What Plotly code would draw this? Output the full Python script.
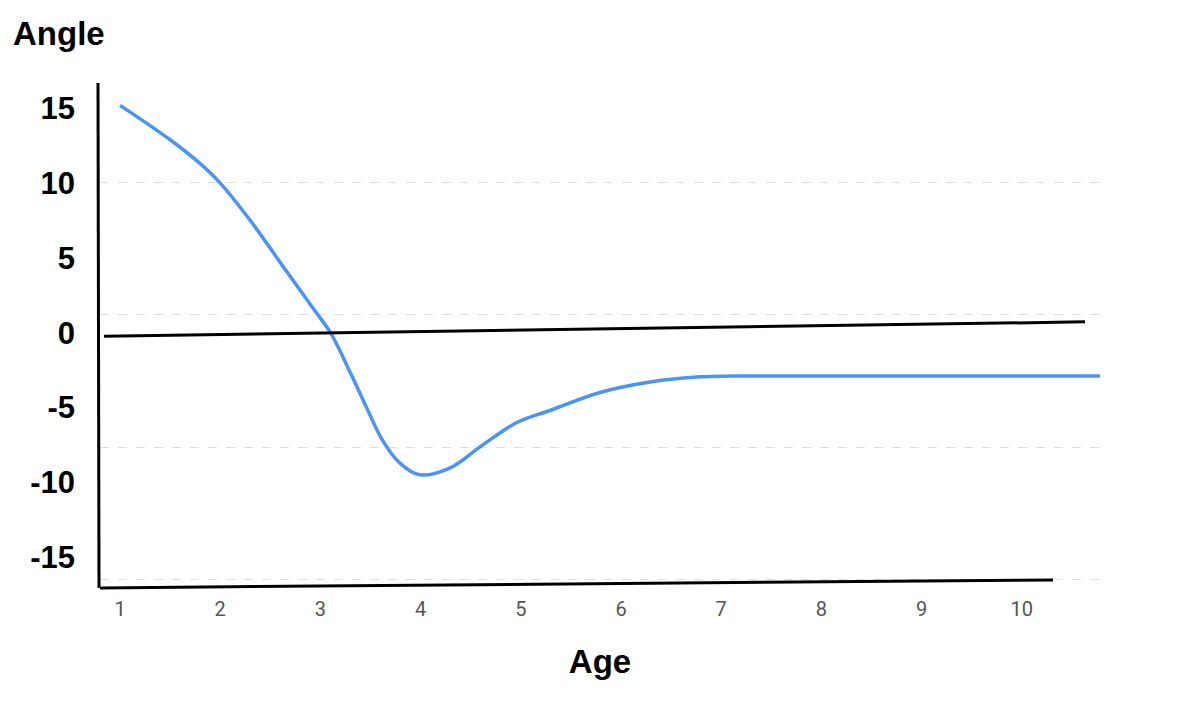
import plotly.graph_objects as go

# data
age = [1, 1.5, 1.8, 2.0, 2.3, 2.63, 2.93, 3.1, 3.3, 3.46, 3.62, 3.79, 3.99,
       4.29, 4.59, 4.96, 5.29, 5.79, 6.29, 6.79, 7.12, 8, 9, 10, 11]
angle = [15.2, 12.9, 11.3, 10.0, 7.5, 4.4, 1.6, 0.0, -2.7, -5.0, -7.2, -8.7, -9.5,
         -9.05, -7.65, -6.0, -5.2, -4.0, -3.3, -2.95, -2.9, -2.9, -2.9, -2.9, -2.9]

x_ticks = [1, 2, 3, 4, 5, 6, 7, 8, 9, 10]
y_ticks = [-15, -10, -5, 0, 5, 10, 15]
grid_levels = [0, 1, 2, 3]

BLUE = "#4a94f2"
FONT = "Liberation Sans"

fig = go.Figure()
fig.add_trace(go.Scatter(
    x=age, y=angle, mode="lines",
    line=dict(color=BLUE, width=3.5, shape="spline", smoothing=1.0),
    showlegend=False, hoverinfo="skip",
))
# empty trace so the dashed grid axis gets drawn
fig.add_trace(go.Scatter(x=[], y=[], yaxis="y2", showlegend=False, hoverinfo="skip"))

# hand drawn looking black axis strokes (paper coords)
strokes = [
    (-0.002, 0.938, -0.001, -0.013),
    (0.0, -0.013, 0.953, 0.002),
    (0.004, 0.461, 0.985, 0.488),
]
for x0, y0, x1, y1 in strokes:
    fig.add_shape(type="line", xref="paper", yref="paper",
                  x0=x0, y0=y0, x1=x1, y1=y1,
                  line=dict(color="#000", width=3), layer="above")

# page body has an 8px margin, so the figure is 8px smaller and shifted
fig.update_layout(
    width=1170, height=698,
    margin=dict(l=92, r=78, t=42, b=125),
    paper_bgcolor="white", plot_bgcolor="white",
    title=dict(text="Angle", x=5 / 1170, y=1 - 25 / 698, xref="container", yref="container",
               xanchor="left", yanchor="middle",
               font=dict(family=FONT, size=33, color="#000", weight="bold")),
    xaxis=dict(range=[0.8, 10.78], tickvals=x_ticks, showgrid=False, zeroline=False,
               showline=False, ticks="", ticklabelstandoff=14,
               tickfont=dict(family="Roboto", size=20, color="#555"),
               title=dict(text="Age", standoff=29,
                          font=dict(family=FONT, size=33, color="#000", weight="bold"))),
    yaxis=dict(range=[-16.6, 18.9], tickvals=y_ticks, ticktext=[str(v) for v in y_ticks],
               showgrid=False, zeroline=False,
               showline=False, ticks="", ticklabelstandoff=24,
               tickfont=dict(family=FONT, size=31, color="#000", weight="bold")),
    yaxis2=dict(range=[-0.012, 4], tickvals=grid_levels, overlaying="y", side="left",
                showticklabels=False, showgrid=True, gridcolor="#dedede",
                griddash="dash", gridwidth=1, zeroline=False, showline=False),
)

fig.write_html("out.html")
